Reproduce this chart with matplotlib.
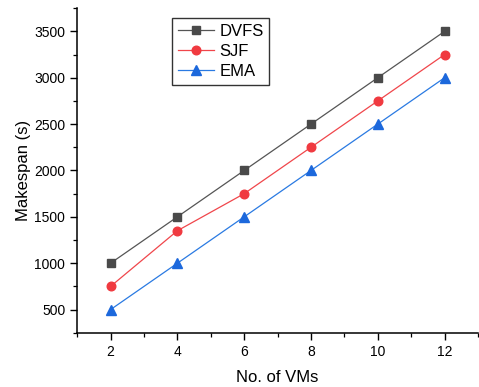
import matplotlib
matplotlib.use("Agg")
import matplotlib.pyplot as plt
from matplotlib.ticker import MultipleLocator

plt.rcParams['font.family'] = ['Liberation Sans', 'DejaVu Sans']

vms = [2, 4, 6, 8, 10, 12]
dvfs = [1000, 1500, 2000, 2500, 3000, 3500]
sjf = [750, 1350, 1750, 2250, 2750, 3250]
ema = [500, 1000, 1500, 2000, 2500, 3000]

fig = plt.figure(figsize=(4.79, 3.87), dpi=100)
ax = fig.add_axes([0.161, 0.14, 0.837, 0.839])

ax.plot(vms, dvfs, color='#555555', lw=0.9, marker='s', ms=5.5, mfc='#4a4a4a', mec='#4a4a4a', label='DVFS')
ax.plot(vms, sjf, color='#f0464b', lw=0.9, marker='o', ms=6.2, mfc='#f03a40', mec='#f03a40', label='SJF')
ax.plot(vms, ema, color='#2a7ae2', lw=0.9, marker='^', ms=6.8, mfc='#1c68dc', mec='#1c68dc', label='EMA')

ax.set_xlim(1, 13)
ax.set_ylim(250, 3750)
ax.set_xticks(vms)
ax.set_yticks(range(500, 3501, 500))
ax.xaxis.set_minor_locator(MultipleLocator(1))
ax.yaxis.set_minor_locator(MultipleLocator(250))
ax.spines['top'].set_visible(False)
ax.spines['right'].set_visible(False)
for s in ('left', 'bottom'):
    ax.spines[s].set_linewidth(1.1)
ax.tick_params(which='major', direction='out', length=5, width=1.0, labelsize=10, colors='black')
ax.tick_params(which='minor', direction='out', length=3, width=0.9)

ax.set_xlabel('No. of VMs', fontsize=12, labelpad=8)
ax.set_ylabel('Makespan (s)', fontsize=12, labelpad=2)

leg = ax.legend(loc='upper left', bbox_to_anchor=(0.236, 0.970), fontsize=12,
                frameon=True, fancybox=False, edgecolor='black', borderpad=0.35,
                labelspacing=0.3, handlelength=2.2, handletextpad=0.3, borderaxespad=0)
leg.get_frame().set_linewidth(1.0)

fig.savefig('out.png', dpi=100)
